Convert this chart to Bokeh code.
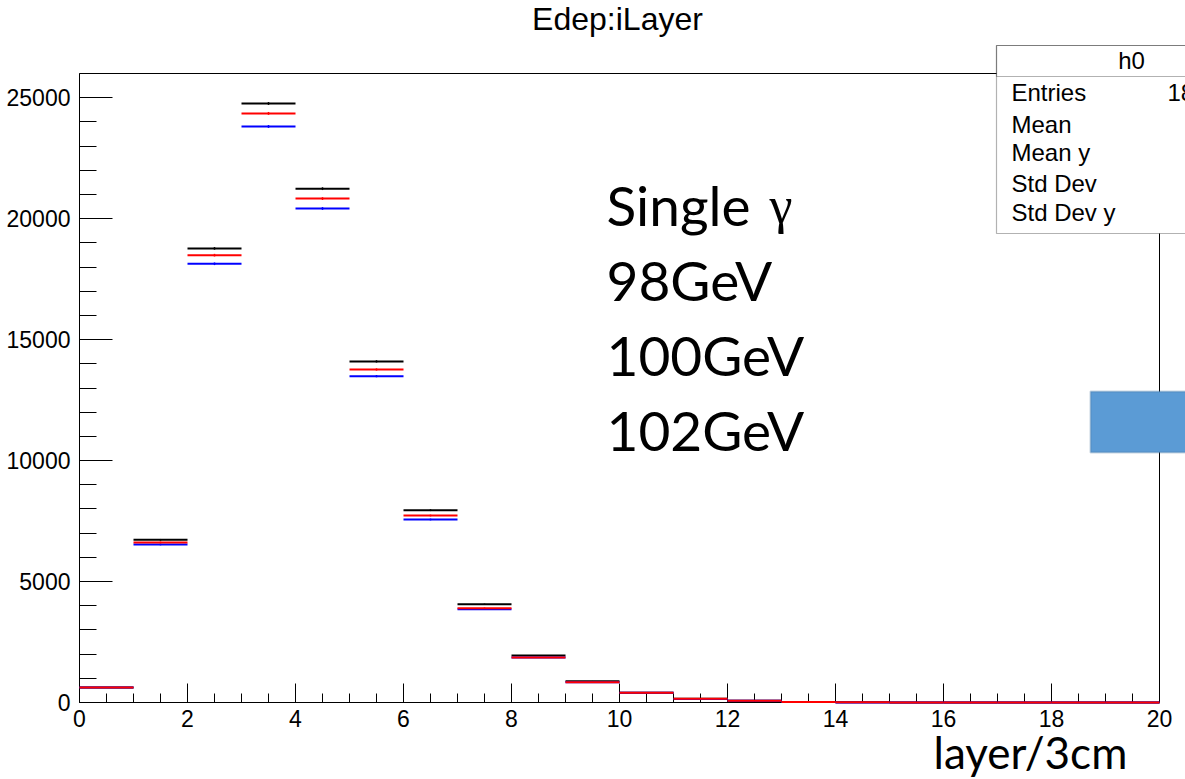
from bokeh.plotting import figure
from bokeh.models import BoxAnnotation, Label, SingleIntervalTicker, Range1d
from bokeh.embed import file_html
from bokeh.resources import INLINE

# Energy deposit per layer (bin i covers layer i .. i+1), three beam energies
layer_edges = list(range(21))
edep_102 = [620, 6725, 18770, 24760, 21240, 14100, 7950, 4060, 1945, 880,
            405, 155, 72, 18, 6, 2, 1, 0, 0, 0]
edep_100 = [620, 6615, 18490, 24350, 20830, 13765, 7730, 3900, 1860, 840,
            400, 150, 70, 17, 6, 2, 1, 0, 0, 0]
edep_98 = [620, 6530, 18135, 23810, 20420, 13490, 7565, 3858, 1860, 838,
           398, 149, 69, 16, 5, 2, 1, 0, 0, 0]
edep_err = [8, 35, 55, 60, 58, 48, 38, 28, 18, 12, 8, 5, 3, 2, 1, 1, 0, 0, 0, 0]

stat_names = ["Entries", "Mean", "Mean y", "Std Dev", "Std Dev y"]
energy_lines = ["Single", "98GeV", "100GeV", "102GeV"]

W, H = 1185, 779
X_MAX, Y_MAX = 20, 26000
FRAME_L, FRAME_R, FRAME_T, FRAME_B = 79, 1159, 73, 702
PX_X = (FRAME_R - FRAME_L) / X_MAX
PX_Y = (FRAME_B - FRAME_T) / Y_MAX


def dx(px):
    return (px - FRAME_L) / PX_X


def dy(py):
    return (FRAME_B - py) / PX_Y


# The plotting area spans the whole canvas; axes are pinned at zero so the
# histogram box sits where it should and the annotations around it stay visible.
p = figure(width=W, height=H, output_backend="svg", toolbar_location=None,
           x_range=Range1d(dx(0), dx(W)), y_range=Range1d(dy(H), dy(0)),
           min_border=0)
p.xgrid.visible = False
p.ygrid.visible = False
p.background_fill_color = "white"
p.border_fill_color = "white"
p.outline_line_color = None

p.xaxis.ticker = SingleIntervalTicker(interval=2, num_minor_ticks=4)
p.yaxis.ticker = SingleIntervalTicker(interval=5000, num_minor_ticks=5)
p.xaxis.fixed_location = 0
p.yaxis.fixed_location = 0
p.xaxis.bounds = (0, X_MAX)
p.yaxis.bounds = (0, Y_MAX)
for ax in (p.xaxis[0], p.yaxis[0]):
    ax.major_tick_out = 0
    ax.minor_tick_out = 0
    ax.axis_line_color = "black"
    ax.major_tick_line_color = "black"
    ax.minor_tick_line_color = "black"
    ax.major_label_text_font = "Liberation Sans"
    ax.major_label_text_font_size = "23px"
    ax.major_label_text_color = "black"
p.xaxis.major_tick_in = 19
p.xaxis.minor_tick_in = 9
p.yaxis.major_tick_in = 33
p.yaxis.minor_tick_in = 17
p.xaxis.major_label_standoff = 7
p.yaxis.major_label_standoff = 9

# top and right edges of the histogram frame
p.segment(x0=[0, X_MAX], y0=[Y_MAX, 0], x1=[X_MAX, X_MAX], y1=[Y_MAX, Y_MAX],
          line_color="black", line_width=1)

lo = layer_edges[:-1]
hi = layer_edges[1:]
mid = [(a + b) / 2 for a, b in zip(lo, hi)]

for vals, col in ((edep_102, "black"), (edep_98, "blue"), (edep_100, "red")):
    p.segment(x0=lo, x1=hi, y0=vals, y1=vals, line_color=col, line_width=2,
              level="overlay")
    p.segment(x0=mid, x1=mid, y0=[v - e for v, e in zip(vals, edep_err)],
              y1=[v + e for v, e in zip(vals, edep_err)], line_color=col,
              line_width=1.5, level="overlay")


def text_at(px, base, text, size, font, align="left", color="black"):
    # place a label so that its alphabetic baseline lands on `base`
    p.add_layout(Label(x=dx(px), y=dy(base - 0.38 * size), text=text,
                       text_align=align, text_baseline="alphabetic",
                       text_font=font, text_font_size=f"{size}px",
                       text_color=color, level="overlay"))


# Title
text_at(617, 31, "Edep:iLayer", 32, "Liberation Sans", align="center")

# Statistics box
p.add_layout(BoxAnnotation(left=dx(996), right=dx(W + 20), top=dy(45), bottom=dy(233),
                           fill_color="white", fill_alpha=1, line_color="black",
                           line_width=1.2, level="overlay"))
p.add_layout(BoxAnnotation(left=dx(996), right=dx(W + 20), top=dy(45), bottom=dy(76),
                           fill_alpha=0, line_color="black", line_width=1.2,
                           level="overlay"))
text_at(1131, 69, "h0", 24, "Liberation Sans", align="center")
for name, base in zip(stat_names, [101, 133, 161, 192, 221]):
    text_at(1011, base, name, 24, "Liberation Sans")
text_at(1167, 101, "18", 24, "Liberation Sans")

# Energy annotation
for line, base in zip(energy_lines, [225, 300, 375, 450]):
    text_at(606, base, line, 55, "Lato")
text_at(769, 225, "γ", 52, "Liberation Serif")

# Blue marker box at the right edge
p.add_layout(BoxAnnotation(left=dx(1090), right=dx(W + 20), top=dy(391), bottom=dy(452),
                           fill_color="#5B9BD5", fill_alpha=1, line_color="#41719C",
                           line_width=2, level="overlay"))

# Axis title
text_at(933, 768, "layer/3cm", 44, "Lato")

open("out.html", "w").write(file_html(p, INLINE))
